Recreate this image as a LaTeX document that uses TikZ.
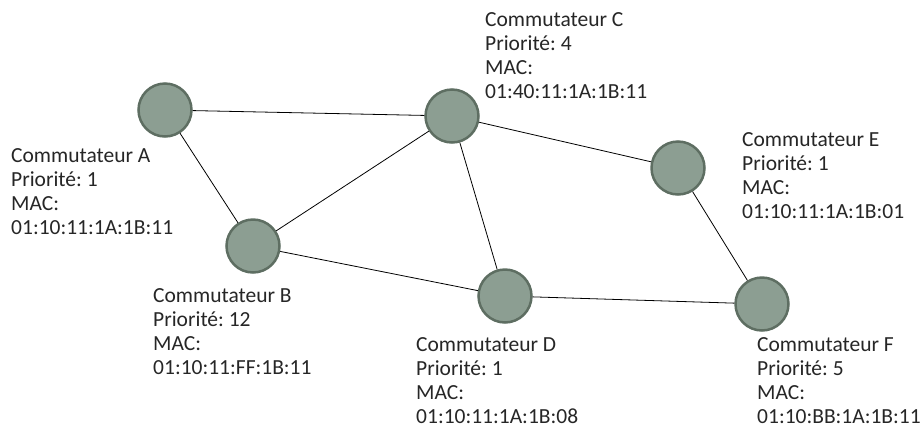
\documentclass[tikz,border=0pt]{standalone}
\usepackage{fontspec}
\setmainfont{Carlito}
\frenchspacing
\definecolor{nodefill}{RGB}{140,158,146}
\definecolor{nodeline}{RGB}{94,110,98}
\definecolor{textgray}{RGB}{38,38,38}

\begin{document}
\begin{tikzpicture}[x=1pt, y=-1pt,
    switch/.style={draw=nodeline, line width=2.5pt, fill=nodefill, circle, minimum size=53pt, inner sep=0pt},
    info/.style={anchor=base west, align=left, inner sep=0pt, text=textgray, font=\fontsize{21.5}{24}\selectfont},
    link/.style={draw=black, line width=0.8pt}]
          \useasboundingbox (0,0) rectangle (924,432);
          % commutateurs
          \node[switch] (A) at (165,110) {};
          \node[switch] (B) at (253,246) {};
          \node[switch] (C) at (452,116) {};
          \node[switch] (D) at (505,296) {};
          \node[switch] (E) at (678,168) {};
          \node[switch] (F) at (762,304) {};
          % liens
          \foreach \a/\b in {A/C, A/B, B/C, C/D, C/E, B/D, D/F, E/F}{
              \draw[link] (\a) -- (\b);
          }
          % etiquettes (base = derniere ligne)
          \node[info] (labA) at (11,234) {Commutateur A\\Priorité: 1\\MAC:\\01:10:11:1A:1B:11};
          \node[info] (labB) at (153,374) {Commutateur B\\Priorité: 12\\MAC:\\01:10:11:FF:1B:11};
          \node[info] (labC) at (485,98) {Commutateur C\\Priorité: 4\\MAC:\\01:40:11:1A:1B:11};
          \node[info] (labD) at (416,423) {Commutateur D\\Priorité: 1\\MAC:\\01:10:11:1A:1B:08};
          \node[info] (labE) at (742,218) {Commutateur E\\Priorité: 1\\MAC:\\01:10:11:1A:1B:01};
          \node[info] (labF) at (757,423) {Commutateur F\\Priorité: 5\\MAC:\\01:10:BB:1A:1B:11};
      \end{tikzpicture}
\end{document}
